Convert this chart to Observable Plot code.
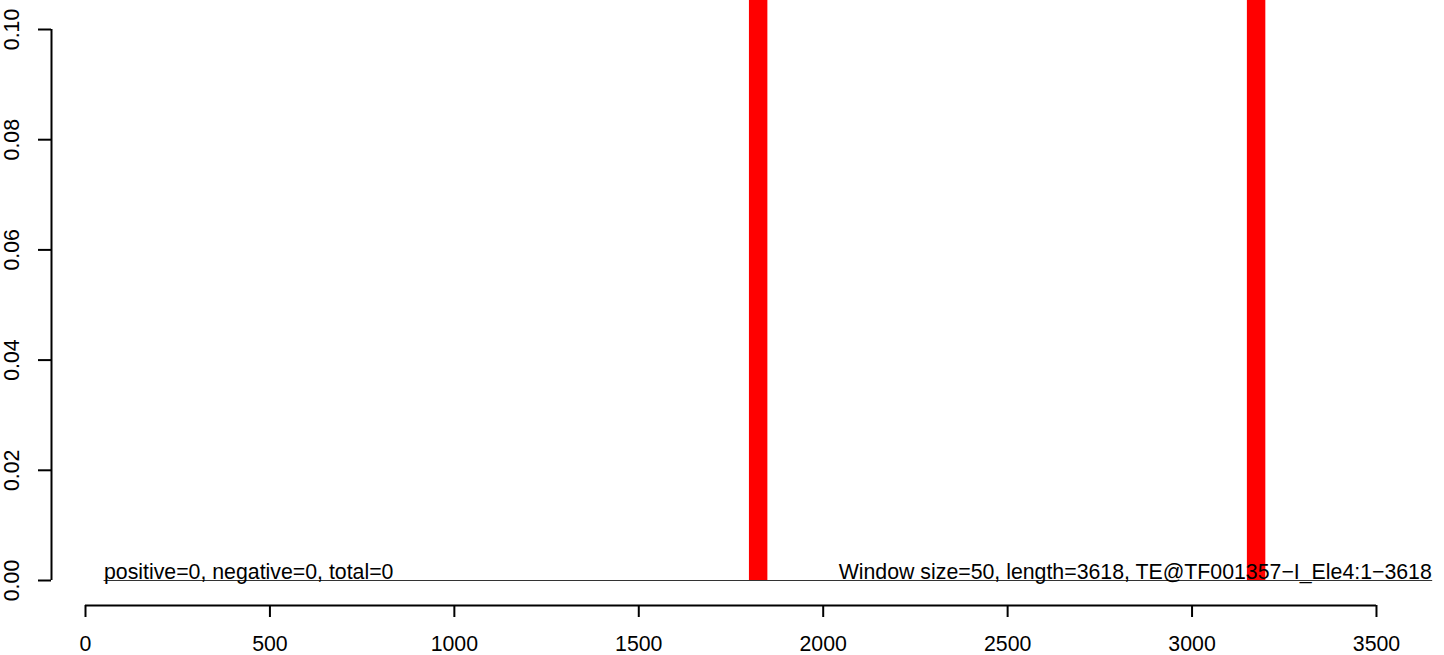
<!DOCTYPE html>
<html>
<head>
<meta charset="utf-8">
<script src="https://cdn.jsdelivr.net/npm/d3@7"></script>
<script src="https://cdn.jsdelivr.net/npm/@observablehq/plot@0.6"></script>
<style>
  html, body { margin: 0; padding: 0; background: #fff; }
  svg { display: block; }
</style>
</head>
<body>
<div id="chart"></div>
<script>
// ---- data ----
const xTicks = [0, 500, 1000, 1500, 2000, 2500, 3000, 3500];
const yTicks = [0, 0.02, 0.04, 0.06, 0.08, 0.10];
const barStarts = [1800, 3150];
const barEnds = [1850, 3200];
const barValues = [0.5, 0.5]; // extend beyond the top of the panel
const baseX = [50, 3650];
const baseY = [0, 0];
const leftLabel = "positive=0, negative=0, total=0";
const rightLabel = "Window size=50, length=3618, TE@TF001357\u2212I_Ele4:1\u22123618";

// ---- scale domains ----
const xLo = -92.18, xHi = 3657.3;
const yLo = -0.004537, yHi = 0.105263;

const bars = barStarts.map((s, i) => ({x1: s, x2: barEnds[i], y: barValues[i]}));
const baseline = baseX.map((x, i) => ({x, y: baseY[i]}));

const chart = Plot.plot({
  width: 1444,
  height: 655,
  marginLeft: 51,
  marginRight: 10,
  marginTop: 0,
  marginBottom: 50,
  style: {fontFamily: "'Liberation Sans', Arial, Helvetica, sans-serif", fontSize: "21px", background: "#fff", color: "#000"},
  x: {domain: [xLo, xHi], axis: null},
  y: {domain: [yLo, yHi], axis: null},
  marks: [
    Plot.line(baseline, {x: "x", y: "y", stroke: "#333", strokeWidth: 1}),
    Plot.rectY(bars, {x1: "x1", x2: "x2", y1: 0, y2: "y", fill: "#ff0000", clip: true}),
    Plot.text([leftLabel], {x: baseX[0], y: 0, text: d => d, textAnchor: "start", lineAnchor: "bottom", dy: -2, fontSize: 21.3, fill: "#000"}),
    Plot.text([rightLabel], {x: baseX[1], y: 0, text: d => d, textAnchor: "end", lineAnchor: "bottom", dy: -2, fontSize: 21.3, fill: "#000"}),
    // y axis
    Plot.ruleX([xLo], {y1: yTicks[0], y2: yTicks[yTicks.length - 1], stroke: "#000", strokeWidth: 2}),
    Plot.axisY({ticks: yTicks, tickSize: 13, tickRotate: -90, tickPadding: 20, fontSize: 21.3, strokeWidth: 2, tickFormat: d3.format(".2f"), label: null}),
    // x axis
    Plot.ruleY([yLo], {x1: xTicks[0], x2: xTicks[xTicks.length - 1], stroke: "#000", strokeWidth: 2}),
    Plot.axisX({ticks: xTicks, tickSize: 12, tickPadding: 18, fontSize: 21.3, strokeWidth: 2, tickFormat: d => String(d), label: null})
  ]
});
document.getElementById("chart").appendChild(chart);
</script>
</body>
</html>
